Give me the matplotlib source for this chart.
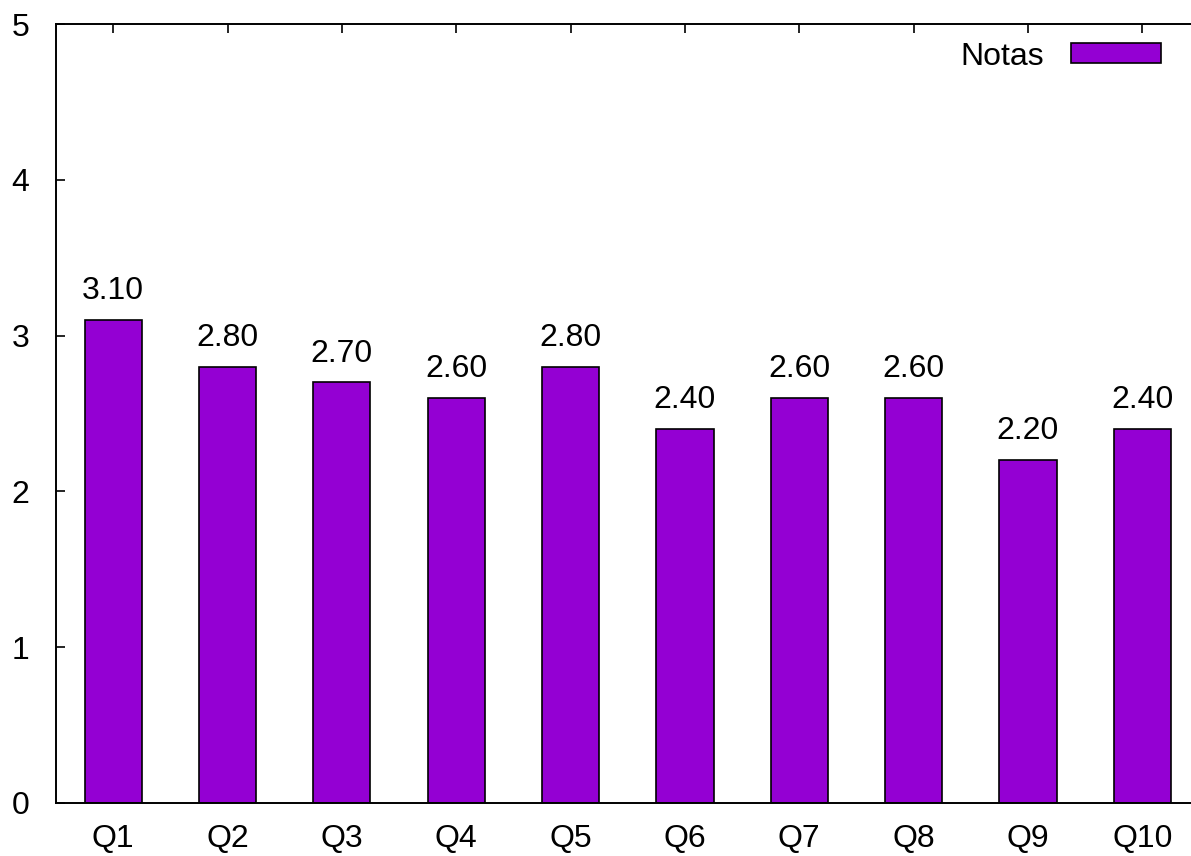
import matplotlib
matplotlib.use("Agg")
import matplotlib.pyplot as plt
import numpy as np

categories = ["Q1", "Q2", "Q3", "Q4", "Q5", "Q6", "Q7", "Q8", "Q9", "Q10"]
notas = [3.10, 2.80, 2.70, 2.60, 2.80, 2.40, 2.60, 2.60, 2.20, 2.40]
y_ticks = [0, 1, 2, 3, 4, 5]

plt.rcParams['font.family'] = ['Liberation Sans', 'DejaVu Sans']
fs = 23

W, H = 1191, 856
fig = plt.figure(figsize=(W / 100, H / 100), dpi=100)
# gnuplot-like frame; the right border falls just outside the picture
ax = fig.add_axes([56 / W, 53 / H, 1143.5 / W, 779 / H])

x = np.arange(len(categories))
bars = ax.bar(x, notas, width=0.5, color="#9400D3", edgecolor="black",
              linewidth=1.2, label="Notas", zorder=2)

for xi, v in zip(x, notas):
    ax.annotate(f"{v:.2f}", (xi, v), xytext=(0, 15), textcoords="offset points",
                ha="center", va="baseline", fontsize=fs)

ax.set_xlim(-0.5, len(categories) - 0.5)
ax.set_ylim(0, 5)
ax.set_xticks(x)
ax.set_xticklabels(categories)
ax.set_yticks(y_ticks)
ax.tick_params(axis="both", direction="in", length=6.5, width=1.2,
               labelsize=fs, top=True, right=True)
ax.tick_params(axis="x", pad=15)
ax.tick_params(axis="y", pad=19)
for s in ax.spines.values():
    s.set_linewidth(1.4)

ax.legend(loc="upper right", frameon=False, markerfirst=False, fontsize=fs,
          handlelength=2.8, handleheight=0.58, handletextpad=0.85,
          borderaxespad=0.15, bbox_to_anchor=(1 - 21 / 1143.5, 1))

fig.savefig("out.png", dpi=100)
